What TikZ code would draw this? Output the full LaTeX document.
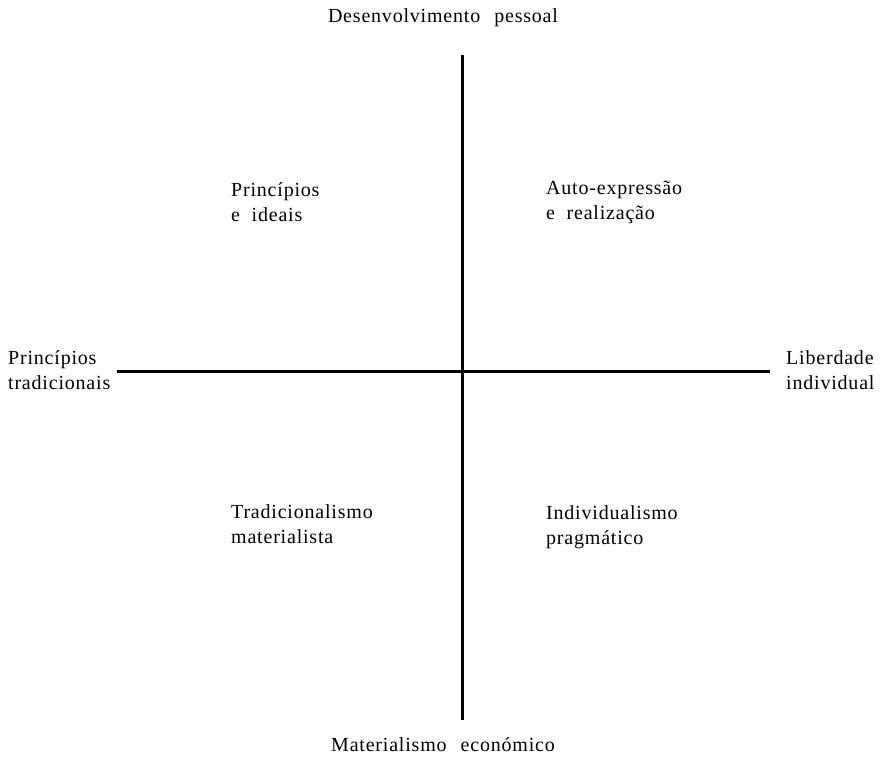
\documentclass[tikz,border=0pt]{standalone}
\usepackage{fontspec}
\setmainfont[LetterSpace=4]{Liberation Serif}
\usetikzlibrary{positioning}

\tikzset{
  lbl/.style={font=\fontsize{20}{25}\selectfont, align=left, anchor=west, inner sep=0pt},
  axis/.style={line width=3pt}
}

\begin{document}
\begin{tikzpicture}[x=1pt,y=-1pt]
        \useasboundingbox (0,0) rectangle (880,763);
        % axes
        \coordinate (top) at (462,55);
        \coordinate (bot) at (462,720);
        \coordinate (lft) at (117,371);
        \coordinate (rgt) at (770,371);
        \draw[axis] (top) -- (bot);
        \draw[axis] (lft) -- (rgt);
        % axis labels
        \node[lbl, anchor=center] (dev) at (443,18) {Desenvolvimento\hspace{14pt}pessoal};
        \node[lbl, anchor=center] (mat) at (443,745) {Materialismo\hspace{14pt}económico};
        \node[lbl] (trad) at (8,370) {Princípios\\tradicionais};
        \node[lbl] (lib) at (786,370) {Liberdade\\individual};
        % quadrants
        \node[lbl] (ideais) at (231,202) {Princípios\\e\ \ ideais};
        \node[lbl] (auto) at (546,202) {Auto-expressão\\e\ \ realização};
        \node[lbl] (tradmat) at (231,524) {Tradicionalismo\\materialista};
        \node[lbl] (indiv) at (546,527) {Individualismo\\pragmático};
    \end{tikzpicture}
\end{document}
